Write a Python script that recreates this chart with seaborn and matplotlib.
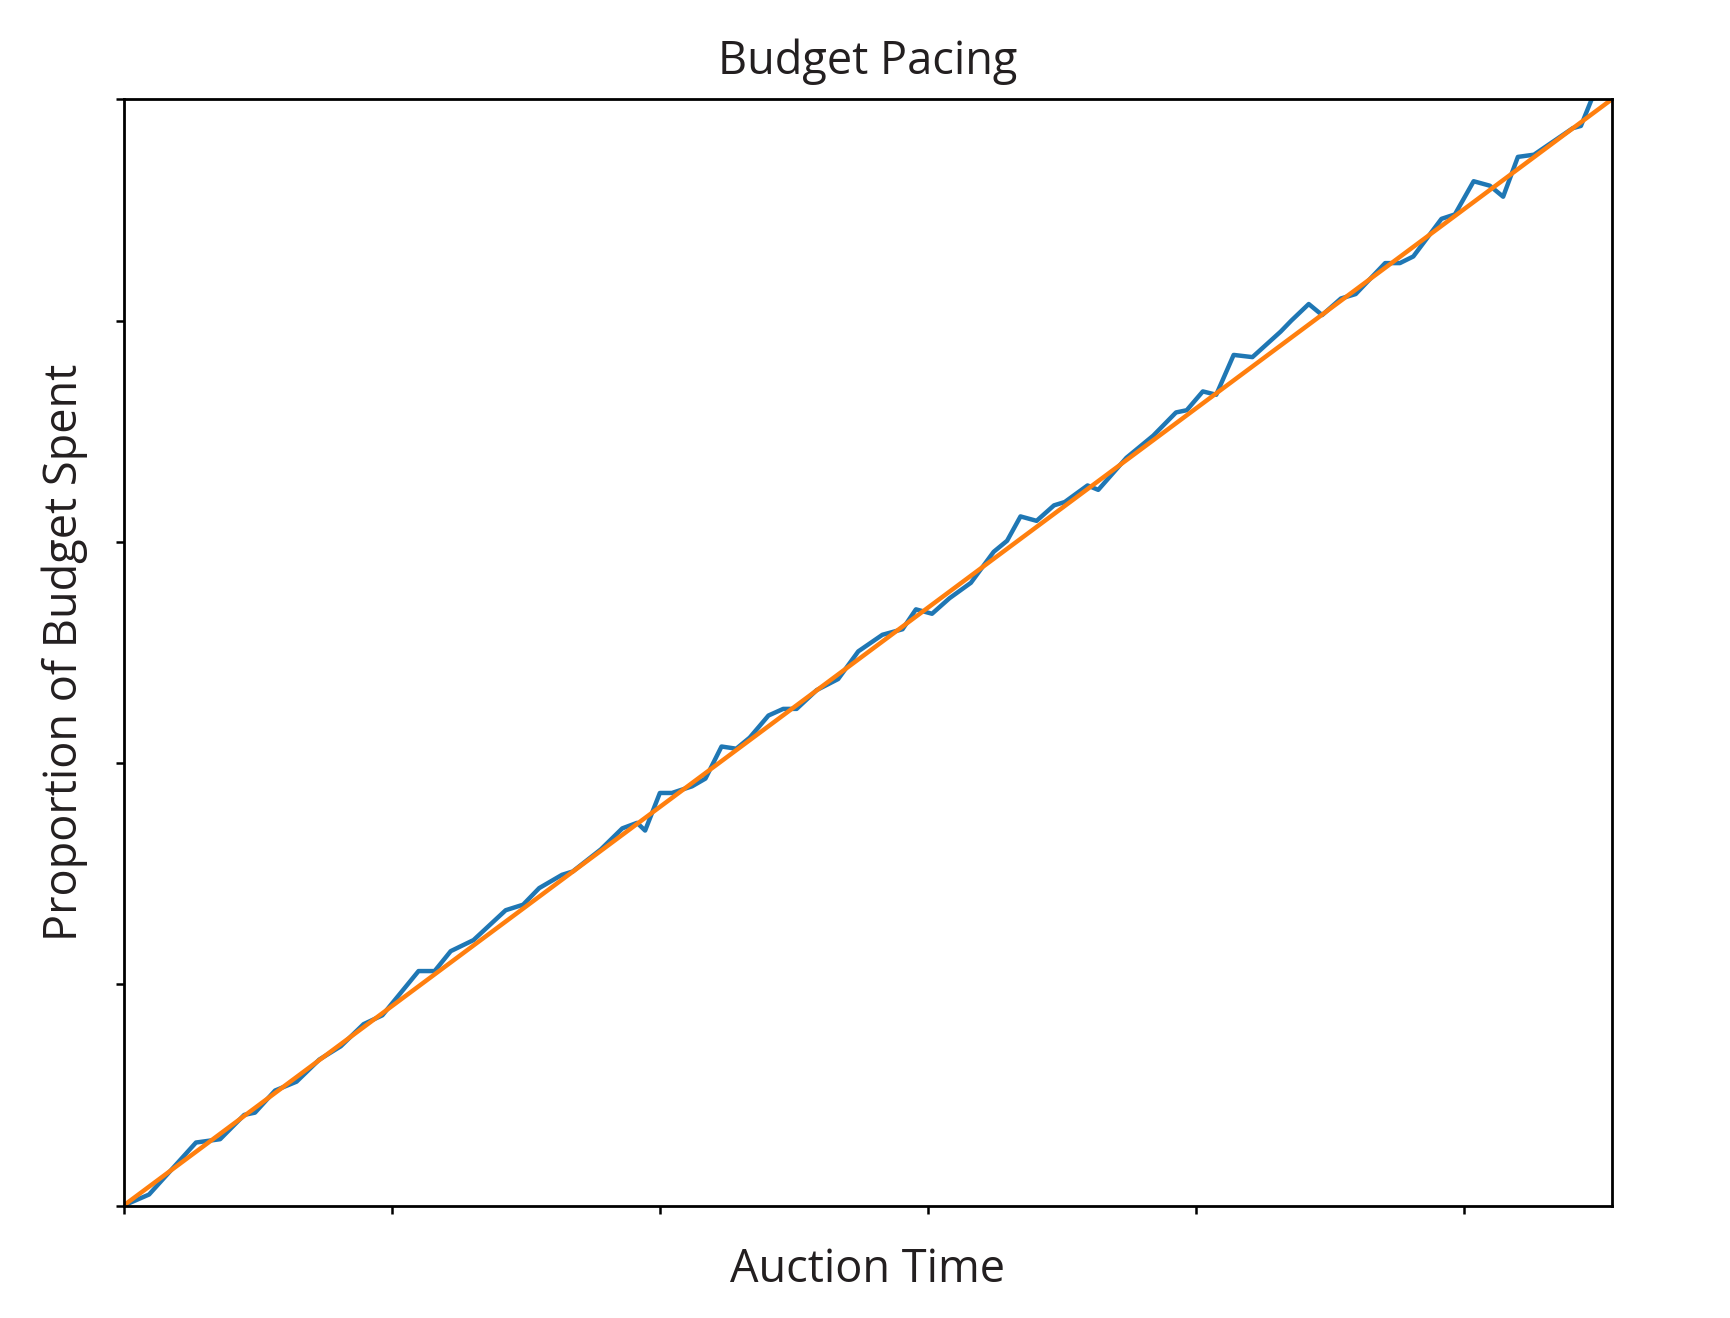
import numpy as np
import pandas as pd
import matplotlib
matplotlib.use('Agg')
import matplotlib.pyplot as plt
import seaborn as sns

# auction time steps and cumulative share of budget spent
auction_time = [0.0, 1.9, 5.4, 7.2, 9.0, 9.8, 11.3, 12.9, 14.6, 16.2, 17.9, 19.3,
                22.0, 23.2, 24.4, 26.1, 28.5, 29.8, 31.0, 32.7, 33.5, 35.6, 37.2, 38.3,
                38.9, 40.0, 40.9, 42.4, 43.4, 44.6, 45.7, 46.7, 48.1, 49.2, 50.2, 51.7,
                53.3, 54.8, 56.6, 58.1, 59.1, 60.3, 61.6, 63.2, 64.9, 65.9, 66.9, 68.1,
                69.4, 70.2, 71.9, 72.7, 74.8, 76.8, 78.5, 79.3, 80.5, 81.5, 82.8, 84.2,
                86.3, 87.1, 88.4, 89.4, 90.8, 91.9, 94.1, 95.2, 96.2, 98.3, 99.3, 100.7,
                101.9, 102.9, 104.0, 105.2, 108.1, 108.7, 109.5, 110.9]
budget_spent = [0.000, 0.010, 0.057, 0.060, 0.082, 0.084, 0.104, 0.112, 0.132, 0.144,
                0.164, 0.172, 0.212, 0.212, 0.230, 0.240, 0.267, 0.272, 0.287, 0.299,
                0.302, 0.322, 0.341, 0.346, 0.339, 0.373, 0.373, 0.379, 0.386, 0.415,
                0.413, 0.423, 0.443, 0.449, 0.449, 0.466, 0.476, 0.501, 0.516, 0.521,
                0.539, 0.535, 0.549, 0.563, 0.591, 0.601, 0.623, 0.619, 0.633, 0.636,
                0.651, 0.647, 0.676, 0.696, 0.717, 0.719, 0.736, 0.733, 0.769, 0.767,
                0.790, 0.800, 0.815, 0.805, 0.820, 0.824, 0.852, 0.852, 0.858, 0.892,
                0.896, 0.926, 0.922, 0.912, 0.948, 0.950, 0.974, 0.976, 1.000, 1.008]

# ideal pacing: straight line from start to end
ideal_time = [0.0, 111.0]
ideal_spent = [0.0, 1.0]

sns.set_style('white')
plt.rcParams['font.family'] = ['Open Sans', 'DejaVu Sans']

fig = plt.figure(figsize=(17.31, 13.18), dpi=100)
ax = fig.add_axes([0.0714, 0.0853, 0.8597, 0.8393])

actual = pd.DataFrame({'time': auction_time, 'spent': budget_spent})
ideal = pd.DataFrame({'time': ideal_time, 'spent': ideal_spent})
sns.lineplot(data=actual, x='time', y='spent', color='#1f77b4', linewidth=3.2, ax=ax)
sns.lineplot(data=ideal, x='time', y='spent', color='#ff7f0e', linewidth=3.2, ax=ax)

ax.set_xlim(0, 111)
ax.set_ylim(0, 1)
ax.set_xticks([0, 20, 40, 60, 80, 100])
ax.set_yticks([0, 0.2, 0.4, 0.6, 0.8, 1.0])
ax.set_xticklabels([])
ax.set_yticklabels([])
ax.tick_params(axis='both', direction='out', length=6, width=1.8, color='black',
               bottom=True, left=True)
for side in ax.spines.values():
    side.set_color('black')
    side.set_linewidth(2.0)

ax.set_title('Budget Pacing', fontsize=32.5, color='#231f20', pad=18)
ax.set_xlabel('Auction Time', fontsize=32.5, color='#231f20', labelpad=20)
ax.set_ylabel('Proportion of Budget Spent', fontsize=32.5, color='#231f20', labelpad=16)

fig.savefig('out.png', dpi=100)
